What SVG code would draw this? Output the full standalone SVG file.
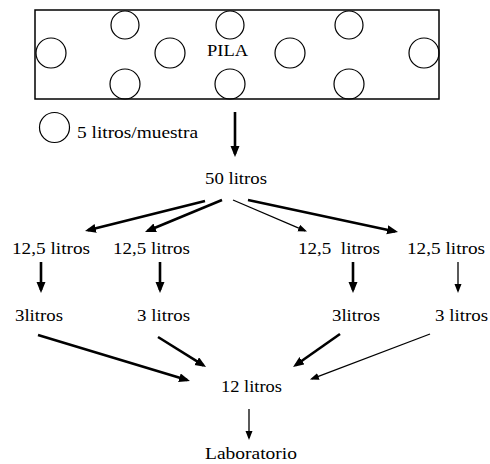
<svg xmlns="http://www.w3.org/2000/svg" width="490" height="464" viewBox="0 0 490 464">
  <style>
    .sample { fill: none; stroke: #000; stroke-width: 1.2; }
    .pile { fill: #fff; stroke: #000; stroke-width: 1.5; }
    .thick { stroke: #000; stroke-width: 2.6; fill: none; marker-end: url(#headBig); }
    .thin { stroke: #000; stroke-width: 1.3; fill: none; marker-end: url(#headSmall); }
  </style>
  <defs>
    <marker id="headBig" markerUnits="userSpaceOnUse" markerWidth="12" markerHeight="10" refX="8" refY="4.5" orient="auto">
      <path d="M0,0 L11,4.5 L0,9 Z" fill="#000"/>
    </marker>
    <marker id="headSmall" markerUnits="userSpaceOnUse" markerWidth="10" markerHeight="8" refX="7" refY="3.5" orient="auto">
      <path d="M0,0 L9,3.5 L0,7 Z" fill="#000"/>
    </marker>
  </defs>
  <rect width="490" height="464" fill="#fff"/>

  <g font-family="'Liberation Serif', 'Times New Roman', serif" fill="#000">
    <!-- stockpile with sampling points -->
    <g id="pila">
      <rect class="pile" x="35" y="10" width="404" height="89"/>
      <circle class="sample" cx="125" cy="25" r="14"/>
      <circle class="sample" cx="230" cy="25" r="14"/>
      <circle class="sample" cx="349" cy="25" r="14"/>
      <circle class="sample" cx="51" cy="53" r="15"/>
      <circle class="sample" cx="170" cy="53" r="15"/>
      <circle class="sample" cx="290" cy="53" r="15"/>
      <circle class="sample" cx="424" cy="53" r="15"/>
      <circle class="sample" cx="125" cy="84" r="15"/>
      <circle class="sample" cx="230" cy="84" r="15"/>
      <circle class="sample" cx="349" cy="84" r="15"/>
      <text x="207" y="56" font-size="16" textLength="41" lengthAdjust="spacingAndGlyphs">PILA</text>
    </g>

    <!-- legend -->
    <g id="leyenda">
      <circle class="sample" cx="54.5" cy="127.5" r="15"/>
      <text x="77" y="138" font-size="17" textLength="121" lengthAdjust="spacingAndGlyphs">5 litros/muestra</text>
    </g>

    <g id="n50"><text x="205" y="184" font-size="17" textLength="62" lengthAdjust="spacingAndGlyphs">50 litros</text></g>

    <g id="n125a"><text x="12" y="254" font-size="17" textLength="78" lengthAdjust="spacingAndGlyphs">12,5 litros</text></g>
    <g id="n125b"><text x="113" y="254" font-size="17" textLength="77" lengthAdjust="spacingAndGlyphs">12,5 litros</text></g>
    <g id="n125c"><text x="298" y="254" font-size="17" textLength="82" lengthAdjust="spacingAndGlyphs" xml:space="preserve">12,5  litros</text></g>
    <g id="n125d"><text x="407" y="254" font-size="17" textLength="78" lengthAdjust="spacingAndGlyphs">12,5 litros</text></g>

    <g id="n3a"><text x="15" y="321" font-size="17" textLength="48" lengthAdjust="spacingAndGlyphs">3litros</text></g>
    <g id="n3b"><text x="137" y="321" font-size="17" textLength="53" lengthAdjust="spacingAndGlyphs">3 litros</text></g>
    <g id="n3c"><text x="332" y="321" font-size="17" textLength="48" lengthAdjust="spacingAndGlyphs">3litros</text></g>
    <g id="n3d"><text x="435" y="321" font-size="17" textLength="53" lengthAdjust="spacingAndGlyphs">3 litros</text></g>

    <g id="n12"><text x="221" y="392" font-size="17" textLength="61" lengthAdjust="spacingAndGlyphs">12 litros</text></g>
    <g id="lab"><text x="205" y="459" font-size="17" textLength="92" lengthAdjust="spacingAndGlyphs">Laboratorio</text></g>
  </g>

  <!-- connectors -->
  <g id="connectors">
    <line class="thick" x1="235" y1="112" x2="235" y2="154"/>

    <line class="thick" x1="205" y1="201" x2="87.9" y2="230.3"/>
    <line class="thick" x1="222" y1="200" x2="147.8" y2="230.8"/>
    <line class="thin" x1="233" y1="200" x2="305.2" y2="230.8"/>
    <line class="thick" x1="248" y1="200" x2="395.1" y2="231.4"/>

    <line class="thick" x1="41" y1="262" x2="41" y2="290"/>
    <line class="thick" x1="160" y1="262" x2="160" y2="290"/>
    <line class="thick" x1="353" y1="262" x2="353" y2="290"/>
    <line class="thin" x1="458" y1="262" x2="458" y2="291"/>

    <line class="thick" x1="38" y1="335" x2="187.1" y2="380.1"/>
    <line class="thick" x1="158" y1="337" x2="203.5" y2="365.4"/>
    <line class="thick" x1="340" y1="334" x2="295.5" y2="365.3"/>
    <line class="thin" x1="430" y1="334" x2="311.8" y2="378.9"/>

    <line class="thin" x1="249" y1="409" x2="249" y2="438"/>
  </g>
</svg>
